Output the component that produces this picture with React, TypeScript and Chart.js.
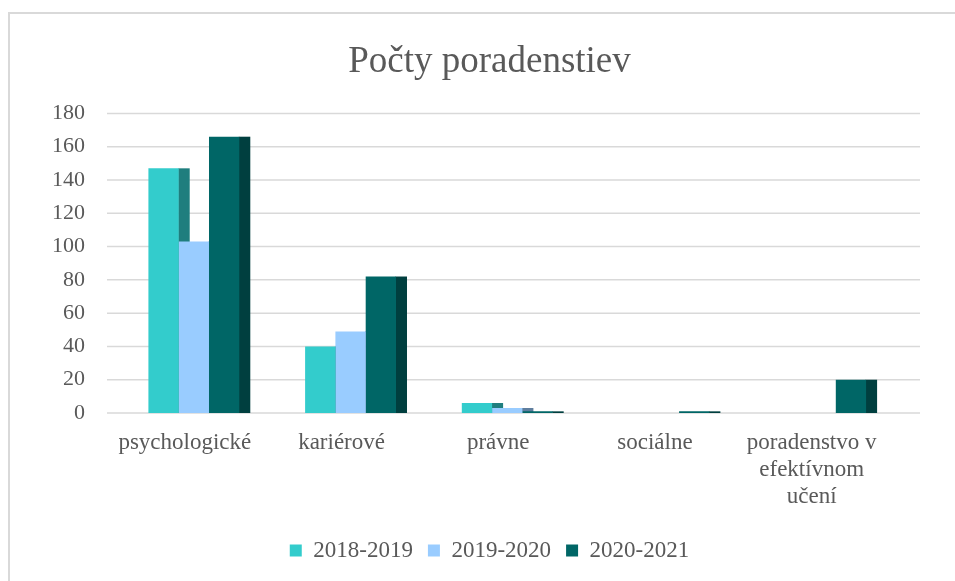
import React, { useEffect, useRef } from "react";
import { Chart, registerables } from "chart.js";

Chart.register(...registerables);

const titleText = "Počty poradenstiev";
const categories: (string | string[])[] = [
  "psychologické",
  "kariérové",
  "právne",
  "sociálne",
  ["poradenstvo v", "efektívnom", "učení"],
];
const seriesNames = ["2018-2019", "2019-2020", "2020-2021"];
const values2018 = [147, 40, 6, 0, 0];
const values2019 = [103, 49, 3, 0, 0];
const values2020 = [166, 82, 1, 1, 20];
const yMin = 0;
const yMax = 180;
const yStep = 20;

const frontColors = ["#33CCCC", "#99CCFF", "#006666"];
const sideColors = ["#1F7E7E", "#5F7E9E", "#003F3F"];
const TEXT = "#595959";
const GRID = "#D9D9D9";
const FONT = "Liberation Serif";
const SIDE_DEPTH = 11;

Chart.defaults.font.family = FONT;
Chart.defaults.color = TEXT;

const gridPlugin = {
  id: "backGrid",
  beforeDatasetsDraw(chart: any) {
    const ctx = chart.ctx;
    const ys = chart.scales.y;
    const { left, right } = chart.chartArea;
    ctx.save();
    ctx.strokeStyle = GRID;
    ctx.lineWidth = 1.5;
    ys.ticks.forEach((t: any) => {
      const py = ys.getPixelForValue(t.value);
      ctx.beginPath();
      ctx.moveTo(left - 8.5, py);
      ctx.lineTo(right + 21, py);
      ctx.stroke();
    });
    ctx.restore();
  },
};

const sidePlugin = {
  id: "sideFaces",
  beforeDatasetsDraw(chart: any) {
    const ctx = chart.ctx;
    ctx.save();
    chart.data.datasets.forEach((_ds: any, i: number) => {
      const meta = chart.getDatasetMeta(i);
      meta.data.forEach((bar: any) => {
        const { x, y, base, width } = bar.getProps(["x", "y", "base", "width"], true);
        const h = Math.abs(base - y);
        if (h <= 0) return;
        ctx.fillStyle = sideColors[i];
        ctx.fillRect(x + width / 2 - 0.5, Math.min(y, base), SIDE_DEPTH + 0.5, h);
      });
    });
    ctx.restore();
  },
};

export default function App() {
  const ref = useRef<HTMLCanvasElement | null>(null);

  useEffect(() => {
    if (!ref.current) return;
    const seriesValues = [values2018, values2019, values2020];
    const chart = new Chart(ref.current, {
      type: "bar",
      data: {
        labels: categories,
        datasets: seriesNames.map((name, i) => ({
          label: name,
          data: seriesValues[i],
          backgroundColor: frontColors[i],
          borderWidth: 0,
          categoryPercentage: 0.58,
          barPercentage: 1,
        })),
      },
      options: {
        animation: false,
        responsive: true,
        maintainAspectRatio: false,
        layout: { padding: { top: 0, bottom: 9, left: 80, right: 56 } },
        plugins: {
          title: {
            display: true,
            text: titleText,
            color: TEXT,
            font: { family: FONT, size: 37, weight: "normal", lineHeight: 1.2 },
            padding: { top: 40, bottom: 29 },
          },
          legend: {
            position: "bottom",
            labels: {
              color: TEXT,
              font: { family: FONT, size: 23, weight: "normal" },
              boxWidth: 12,
              boxHeight: 12,
              padding: 15,
            },
          },
          tooltip: { enabled: false },
        },
        scales: {
          x: {
            grid: { display: false, drawTicks: false },
            border: { display: false },
            ticks: {
              color: TEXT,
              font: { family: FONT, size: 23, weight: "normal", lineHeight: 27 / 23 },
              labelOffset: -9,
              padding: 16,
              maxRotation: 0,
              autoSkip: false,
            },
            afterFit(scale: any) {
              scale.height = 111;
            },
          },
          y: {
            min: yMin,
            max: yMax,
            grid: { display: false, drawTicks: false },
            border: { display: false },
            ticks: {
              stepSize: yStep,
              color: TEXT,
              font: { family: FONT, size: 22, weight: "normal" },
              mirror: true,
              crossAlign: "far",
              padding: -63.5,
            },
            afterFit(scale: any) {
              scale.width = 35.5;
            },
          },
        },
      },
      plugins: [gridPlugin, sidePlugin],
    });
    return () => chart.destroy();
  }, []);

  return (
    <div
      style={{
        position: "fixed",
        left: 0,
        top: 0,
        width: 955,
        height: 581,
        overflow: "hidden",
        background: "#FFFFFF",
      }}
    >
      <div
        style={{
          position: "absolute",
          left: 8,
          top: 12,
          width: 1100,
          height: 800,
          border: `2px solid ${GRID}`,
          boxSizing: "border-box",
        }}
      />
      <div style={{ position: "absolute", left: 0, top: 0, width: 955, height: 581 }}>
        <canvas ref={ref} />
      </div>
    </div>
  );
}
